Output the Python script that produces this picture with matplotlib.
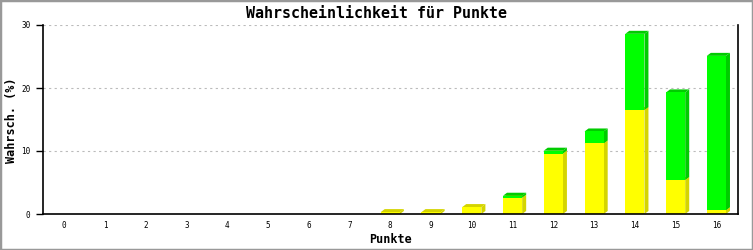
import matplotlib
matplotlib.use("Agg")
import matplotlib.pyplot as plt
from matplotlib.patches import Polygon, Rectangle

punkte = list(range(17))
gelb = [0, 0, 0, 0, 0, 0, 0, 0, 0.3, 0.3, 1.1, 2.6, 9.6, 11.2, 16.5, 5.4, 0.6]
gruen = [0, 0, 0, 0, 0, 0, 0, 0, 0, 0, 0, 0.3, 0.45, 1.9, 12.1, 13.9, 24.5]
yticks = [0, 10, 20, 30]

DPI = 100
fig = plt.figure(figsize=(7.53, 2.5), dpi=DPI)
ax = fig.add_axes([43 / 753, 36 / 250, 695 / 753, 189 / 250])
mono = "DejaVu Sans Mono"

ax.set_xlim(-0.52, 16.53)
ax.set_ylim(0, 30)

bar_w = 0.47
DX, DY = 4, 3  # 3d depth in pixels


def bar3d(x, y0, y1, front, side):
    # work in display pixels so the depth is constant
    (l, b) = ax.transData.transform((x - bar_w / 2, y0))
    (r, t) = ax.transData.transform((x + bar_w / 2, y1))
    ax.add_patch(Polygon([(r, b), (r, t), (r + DX, t + DY), (r + DX, b + DY)],
                         closed=True, facecolor=side, edgecolor="none",
                         transform=None, zorder=3))
    ax.add_patch(Polygon([(l, t), (r, t), (r + DX, t + DY), (l + DX, t + DY)],
                         closed=True, facecolor=side, edgecolor="none",
                         transform=None, zorder=3))
    ax.add_patch(Polygon([(l, b), (r, b), (r, t), (l, t)], closed=True,
                         facecolor=front, edgecolor="none",
                         transform=None, zorder=4))


for x, g, n in zip(punkte, gelb, gruen):
    if g > 0:
        bar3d(x, 0, g, "#ffff00", "#d4d400")
    if n > 0:
        bar3d(x, g, g + n, "#00ff00", "#00cc00")

ax.set_xticks(punkte)
ax.set_xticklabels([str(p) for p in punkte], fontsize=5.5, family=mono)
ax.set_yticks(yticks)
ax.set_yticklabels([str(t) for t in yticks], fontsize=5.5, family=mono)
ax.tick_params(axis="x", length=0, pad=5)
ax.tick_params(axis="y", length=5, width=1, pad=4, direction="out")
ax.yaxis.grid(True, color="#bbbbbb", linestyle=(0, (2, 3)), linewidth=0.8)
ax.set_axisbelow(True)
ax.spines["top"].set_visible(False)
for s in ("left", "bottom", "right"):
    ax.spines[s].set_linewidth(1.2)
    ax.spines[s].set_zorder(5)

fig.text(0.5, 1 - 13 / 250, "Wahrscheinlichkeit für Punkte", fontsize=10.8,
         family=mono, fontweight="bold", ha="center", va="center")
ax.set_xlabel("Punkte", fontsize=8.5, family=mono, fontweight="bold", labelpad=2)
fig.text(12 / 753, 1 - 120 / 250, "Wahrsch. (%)", fontsize=8.5, family=mono,
         fontweight="bold", rotation=90, ha="center", va="center")

fig.patches.append(Rectangle((0, 0), 1, 1, transform=fig.transFigure, fill=False,
                             edgecolor="#999999", linewidth=2.5))

fig.savefig("out.png", dpi=DPI)
